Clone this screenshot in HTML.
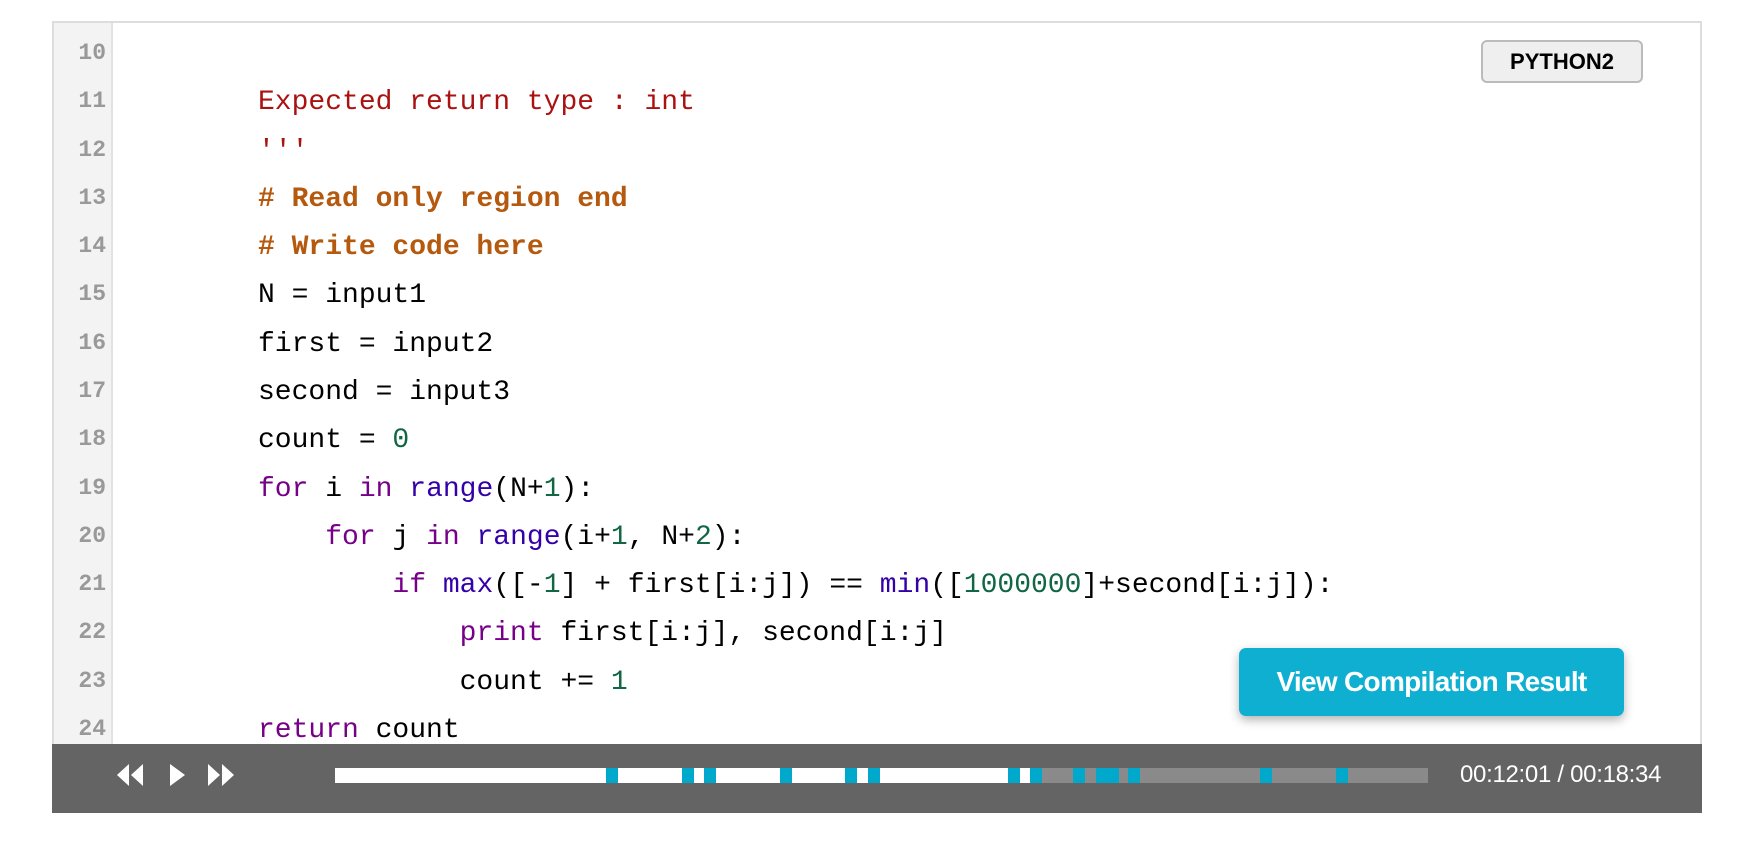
<!DOCTYPE html>
<html><head><meta charset="utf-8"><style>
body{margin:0;width:1738px;height:848px;background:#fff;position:relative;overflow:hidden;font-family:"Liberation Sans",sans-serif}
.frame{position:absolute;left:52px;top:21px;width:1650px;height:725px;border:2px solid #ddd;border-bottom:none;box-sizing:border-box;background:#fff}
.gut{position:absolute;left:54px;top:23px;width:57px;height:723px;background:#f3f3f3;border-right:2px solid #e2e2e2}
.ln{position:absolute;left:54px;width:52px;text-align:right;font-size:23px;color:#999;font-weight:bold;font-family:"Liberation Mono",monospace;height:48px;line-height:48px}
.cl{position:absolute;left:258px;font-family:"Liberation Mono",monospace;font-size:28px;height:48px;line-height:48px;white-space:pre;color:#000}
.s{color:#a11}.c{color:#b5590e;font-weight:bold}.k{color:#708}.b{color:#30a}.n{color:#164}
.py{position:absolute;left:1481px;top:40px;width:162px;height:43px;box-sizing:border-box;border:2px solid #bbb;border-radius:6px;background:#efefef;font-weight:bold;font-size:22px;text-align:center;line-height:39px}
.btn{position:absolute;left:1239px;top:648px;width:385px;height:68px;border-radius:7px;background:#0fafd2;color:#fff;font-weight:bold;font-size:28px;text-align:center;line-height:68px;box-shadow:0 4px 10px rgba(0,0,0,.3);letter-spacing:-0.7px}
.bar{position:absolute;left:52px;top:744px;width:1650px;height:69px;background:#646464}
.tr{position:absolute;top:768px;height:15px}
.m{position:absolute;top:768px;height:15px;width:12px;background:#00a8cc}
.time{position:absolute;left:1460px;top:761px;color:#fff;font-size:24px;letter-spacing:-0.3px}
</style></head><body>
<div class="frame"></div>
<div class="gut"></div>
<div class="ln" style="top:29px">10</div>
<div class="ln" style="top:77px">11</div>
<div class="ln" style="top:126px">12</div>
<div class="ln" style="top:174px">13</div>
<div class="ln" style="top:222px">14</div>
<div class="ln" style="top:270px">15</div>
<div class="ln" style="top:319px">16</div>
<div class="ln" style="top:367px">17</div>
<div class="ln" style="top:415px">18</div>
<div class="ln" style="top:464px">19</div>
<div class="ln" style="top:512px">20</div>
<div class="ln" style="top:560px">21</div>
<div class="ln" style="top:608px">22</div>
<div class="ln" style="top:657px">23</div>
<div class="ln" style="top:705px;height:38px;overflow:hidden">24</div>
<div class="cl s" style="top:79px">Expected return type : int</div>
<div class="cl s" style="top:128px">'''</div>
<div class="cl c" style="top:176px"># Read only region end</div>
<div class="cl c" style="top:224px"># Write code here</div>
<div class="cl" style="top:272px">N = input1</div>
<div class="cl" style="top:321px">first = input2</div>
<div class="cl" style="top:369px">second = input3</div>
<div class="cl" style="top:417px">count = <span class="n">0</span></div>
<div class="cl" style="top:466px"><span class="k">for</span> i <span class="k">in</span> <span class="b">range</span>(N+<span class="n">1</span>):</div>
<div class="cl" style="top:514px">    <span class="k">for</span> j <span class="k">in</span> <span class="b">range</span>(i+<span class="n">1</span>, N+<span class="n">2</span>):</div>
<div class="cl" style="top:562px">        <span class="k">if</span> <span class="b">max</span>([-<span class="n">1</span>] + first[i:j]) == <span class="b">min</span>([<span class="n">1000000</span>]+second[i:j]):</div>
<div class="cl" style="top:610px">            <span class="k">print</span> first[i:j], second[i:j]</div>
<div class="cl" style="top:659px">            count += <span class="n">1</span></div>
<div class="cl" style="top:707px;height:36px;overflow:hidden"><span class="k">return</span> count</div>
<div class="py">PYTHON2</div>
<div class="btn">View Compilation Result</div>
<div class="bar"></div>
<svg style="position:absolute;left:115px;top:762px" width="125" height="26" viewBox="0 0 125 26">
<g fill="#fff"><polygon points="14,2 2,13 14,24"/><polygon points="28,2 16,13 28,24"/>
<polygon points="55,2 70,13 55,24"/>
<polygon points="93,2 105,13 93,24"/><polygon points="107,2 119,13 107,24"/></g></svg>
<div class="tr" style="left:335px;width:707px;background:#fff"></div>
<div class="tr" style="left:1042px;width:386px;background:#8a8a8a"></div>
<div class="m" style="left:606px"></div><div class="m" style="left:682px"></div><div class="m" style="left:704px"></div>
<div class="m" style="left:780px"></div><div class="m" style="left:845px"></div><div class="m" style="left:868px"></div>
<div class="m" style="left:1008px"></div><div class="m" style="left:1030px"></div><div class="m" style="left:1073px"></div>
<div class="m" style="left:1096px;width:23px"></div><div class="m" style="left:1128px"></div>
<div class="m" style="left:1260px"></div><div class="m" style="left:1336px"></div>
<div class="time">00:12:01 / 00:18:34</div>
</body></html>
